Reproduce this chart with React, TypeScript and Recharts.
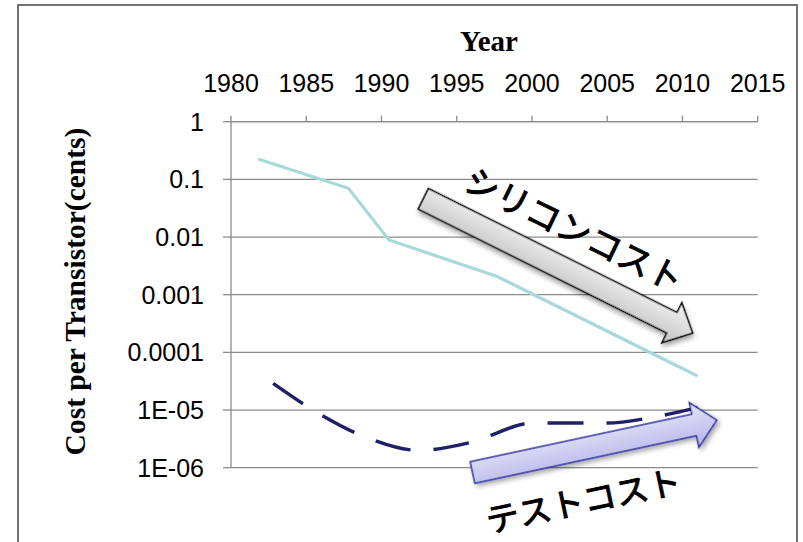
import React from 'react';
import { LineChart, Line, XAxis, YAxis, CartesianGrid } from 'recharts';

const xTicks = [1980, 1985, 1990, 1995, 2000, 2005, 2010, 2015];
const yTicks = [1e-6, 1e-5, 1e-4, 1e-3, 1e-2, 1e-1, 1];
const yTickLabels = ['1E-06', '1E-05', '0.0001', '0.001', '0.01', '0.1', '1'];

const siliconYears = [1981.8, 1987.8, 1990.5, 1997.7, 2011];
const siliconCost = [0.226, 0.07, 0.0089, 0.00206, 0.000039];

const testYears = [1982.8, 1986, 1989, 1992.5, 1996, 2000, 2005, 2008, 2011];
const testCost = [2.9e-5, 8.2e-6, 3.34e-6, 2.0e-6, 2.77e-6, 5.93e-6, 5.94e-6, 7.46e-6, 1.1e-5];

const xTitle = 'Year';
const yTitle = 'Cost per Transistor(cents)';
const siliconLabel = 'シリコンコスト';
const testLabel = 'テストコスト';

const siliconData = siliconYears.map((year, i) => ({ year, cost: siliconCost[i] }));
const testData = testYears.map((year, i) => ({ year, cost: testCost[i] }));

const fmtY = (v: number) => {
  const i = yTicks.findIndex((t) => Math.abs(Math.log10(t) - Math.log10(v)) < 1e-6);
  return i >= 0 ? yTickLabels[i] : String(v);
};

const arrowPoints = (L: number, w: number, h: number, hl: number) =>
  `0,${-w} ${L - hl},${-w} ${L - hl},${-h} ${L},0 ${L - hl},${h} ${L - hl},${w} 0,${w}`;

const tickFont = { fill: '#000', fontSize: 25, fontFamily: 'Liberation Sans, Arial, sans-serif' };

export default function App() {
  return (
    <div style={{ position: 'absolute', left: 0, top: 0, width: 803, height: 542, background: '#fff' }}>
      <LineChart
        width={803}
        height={542}
        margin={{ top: 81.7, right: 45.3, bottom: 74.3, left: 131 }}
      >
        <CartesianGrid vertical={false} stroke="#8c8c8c" strokeWidth={1.3} />
        <XAxis
          type="number"
          dataKey="year"
          domain={[1980, 2015]}
          ticks={xTicks}
          orientation="top"
          height={40}
          tickSize={6}
          tickMargin={24}
          stroke="#8c8c8c"
          strokeWidth={1.3}
          tick={tickFont}
          allowDataOverflow
        />
        <YAxis
          type="number"
          dataKey="cost"
          scale="log"
          domain={[1e-6, 1]}
          ticks={yTicks}
          width={100}
          tickSize={8}
          tickMargin={19}
          stroke="#8c8c8c"
          strokeWidth={1.3}
          tick={tickFont}
          tickFormatter={fmtY}
          allowDataOverflow
        />
        <Line
          data={siliconData}
          dataKey="cost"
          type="linear"
          stroke="#a8d9d9"
          strokeWidth={3.2}
          dot={false}
          isAnimationActive={false}
        />
        <Line
          data={testData}
          dataKey="cost"
          type="monotone"
          stroke="#1f2068"
          strokeWidth={3.5}
          strokeDasharray="36 23"
          dot={false}
          isAnimationActive={false}
        />
      </LineChart>
      <svg
        width={803}
        height={542}
        style={{ position: 'absolute', left: 0, top: 0, pointerEvents: 'none' }}
      >
        <defs>
          <linearGradient id="gGray" x1="0" y1="0" x2="0" y2="1">
            <stop offset="0" stopColor="#f4f4f4" />
            <stop offset="1" stopColor="#c2c2c2" />
          </linearGradient>
          <linearGradient id="gBlue" x1="0" y1="0" x2="0" y2="1">
            <stop offset="0" stopColor="#e6e6fa" />
            <stop offset="1" stopColor="#b3b3ea" />
          </linearGradient>
          <filter id="sh" x="-20%" y="-60%" width="140%" height="220%">
            <feDropShadow dx="2" dy="3" stdDeviation="2.5" floodColor="#000" floodOpacity="0.35" />
          </filter>
        </defs>
        <rect x={18} y={5} width={779} height={600} fill="none" stroke="#444" strokeWidth={1.5} />
        <text
          x={489}
          y={51}
          textAnchor="middle"
          fontSize={29}
          fontWeight="bold"
          fontFamily="Liberation Serif, Times New Roman, serif"
          fill="#000"
        >
          {xTitle}
        </text>
        <text
          x={0}
          y={0}
          transform="translate(75 291.5) rotate(-90)"
          textAnchor="middle"
          dominantBaseline="central"
          fontSize={29.5}
          fontWeight="bold"
          fontFamily="Liberation Serif, Times New Roman, serif"
          fill="#000"
        >
          {yTitle}
        </text>
        <g transform="translate(423.3 198.8) rotate(26.5)">
          <polygon
            points={arrowPoints(301, 11.6, 22.4, 23.3)}
            fill="url(#gGray)"
            stroke="#000"
            strokeWidth={1.5}
            strokeLinejoin="miter"
            filter="url(#sh)"
          />
        </g>
        <g transform="translate(472.5 472.5) rotate(-12.1)">
          <polygon
            points={arrowPoints(249.8, 11.1, 22.9, 23.2)}
            fill="url(#gBlue)"
            stroke="#3333a0"
            strokeWidth={1.5}
            filter="url(#sh)"
          />
        </g>
        <text
          x={0}
          y={0}
          transform="translate(575 228) rotate(26)"
          textAnchor="middle"
          dominantBaseline="central"
          fontSize={34}
          fontFamily="Noto Sans CJK JP, sans-serif"
          fill="#000"
          stroke="#000"
          strokeWidth={1}
        >
          {siliconLabel}
        </text>
        <text
          x={0}
          y={0}
          transform="translate(583 499) rotate(-11.8)"
          textAnchor="middle"
          dominantBaseline="central"
          fontSize={33}
          fontFamily="Noto Sans CJK JP, sans-serif"
          fill="#000"
          stroke="#000"
          strokeWidth={1}
        >
          {testLabel}
        </text>
      </svg>
    </div>
  );
}
